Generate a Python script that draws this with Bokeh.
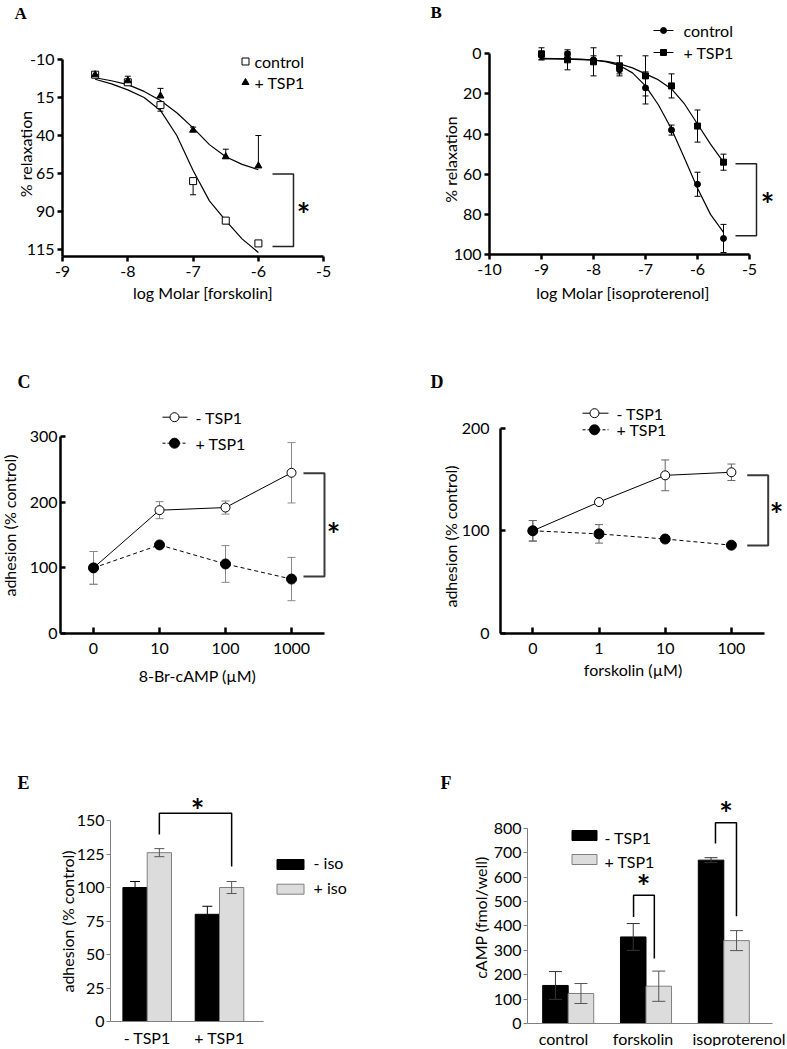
import math
from bokeh.plotting import figure
from bokeh.layouts import column, row
from bokeh.models import Range1d, FixedTicker, Label, Whisker, TeeHead, ColumnDataSource
from bokeh.embed import file_html
from bokeh.resources import INLINE

FONT = "Lato"
SERIF = "Liberation Serif"

# ---------------- data ----------------
# A: forskolin relaxation
a_logx = [-8.5, -8.0, -7.5, -7.0, -6.5, -6.0]
a_control = [0, 5, 20, 70, 96, 111]
a_control_err = [1, 2, 4, 9, 2, 0]
a_tsp1 = [0, 4, 14, 36.5, 54, 60]
a_tsp1_err = [1, 3, 5, 2, 5, 20]
a_fit_x = [-8.5, -8.25, -8.0, -7.75, -7.5, -7.25, -7.0, -6.75, -6.5, -6.25, -6.0]
a_fit_control = [3, 6, 10, 15, 23.5, 40, 63, 83, 96, 108, 117]
a_fit_tsp1 = [2, 4, 6.5, 11, 17, 25, 35, 46, 54, 59, 62.5]
a_yticks = [-10, 15, 40, 65, 90, 115]
a_xticks = [-9, -8, -7, -6, -5]

# B: isoproterenol relaxation
b_logx = [-9, -8.5, -8, -7.5, -7, -6.5, -6, -5.5]
b_control = [1, 0, 3, 8, 17, 38, 65, 92]
b_control_err = [2, 1, 2, 2, 8, 2.5, 6, 7]
b_tsp1 = [0, 3, 4, 6, 11, 16, 36, 54]
b_tsp1_err = [3, 5, 7, 5, 10, 6, 8, 4]
b_fit_x = [-9, -8.75, -8.5, -8.25, -8, -7.75, -7.5, -7.25, -7, -6.75, -6.5, -6.25, -6, -5.75, -5.5]
b_fit_control = [2.3, 2.4, 2.5, 2.7, 3.1, 4.0, 5.8, 9.5, 16, 25.5, 37.5, 52, 67, 80, 89]
b_fit_tsp1 = [2.5, 2.6, 2.7, 2.9, 3.2, 3.8, 5.0, 7.0, 10, 13, 17.5, 25, 35, 45, 54]
b_yticks = [0, 20, 40, 60, 80, 100]
b_xticks = [-10, -9, -8, -7, -6, -5]

# C: 8-Br-cAMP adhesion
c_conc = ["0", "10", "100", "1000"]
c_minus = [100, 188, 192, 245]
c_minus_err = [25, 13, 10, 46]
c_plus = [100, 135, 106, 83]
c_plus_err = [25, 3, 28, 33]
c_yticks = [0, 100, 200, 300]

# D: forskolin adhesion
d_conc = ["0", "1", "10", "100"]
d_minus = [100, 128, 154, 157]
d_minus_err = [10, 2, 15, 8]
d_plus = [100, 97, 92, 86]
d_plus_err = [10, 9, 2, 2]
d_yticks = [0, 100, 200]

# E: adhesion +/- iso
e_groups = ["- TSP1", "+ TSP1"]
e_minus_iso = [100, 80]
e_minus_iso_err = [4.5, 6]
e_plus_iso = [126, 100]
e_plus_iso_err = [3, 4.5]
e_yticks = [0, 25, 50, 75, 100, 125, 150]

# F: cAMP
f_groups = ["control", "forskolin", "isoproterenol"]
f_minus = [156, 355, 670]
f_minus_err = [57, 55, 10]
f_plus = [123, 153, 340]
f_plus_err = [41, 62, 41]
f_yticks = [0, 100, 200, 300, 400, 500, 600, 700, 800]


# ---------------- helpers ----------------
class Panel:
    """Maps reference-pixel positions to data values; frame fills the figure."""

    def __init__(self, L, T, W, H, AX, AY, x0v, x0p, kx, y0v, y0p, ky):
        self.L, self.T, self.W, self.H = L, T, W, H
        self.AX, self.AY = AX, AY
        self.x0v, self.x0p, self.kx = x0v, x0p, kx
        self.y0v, self.y0p, self.ky = y0v, y0p, ky

    def dx(self, px):
        return self.x0v + (px - self.x0p) / self.kx

    def dy(self, py):
        return self.y0v + (self.y0p - py) / self.ky

    def make(self):
        p = figure(width=self.W, height=self.H,
                   x_range=Range1d(self.dx(self.L), self.dx(self.L + self.W)),
                   y_range=Range1d(self.dy(self.T + self.H), self.dy(self.T)),
                   min_border=0, min_border_left=0, min_border_right=0,
                   min_border_top=0, min_border_bottom=0,
                   output_backend="svg", toolbar_location=None)
        p.outline_line_color = None
        p.xgrid.visible = False
        p.ygrid.visible = False
        p.background_fill_color = "white"
        p.border_fill_color = "white"
        p.xaxis[0].fixed_location = self.dy(self.AY)
        p.yaxis[0].fixed_location = self.dx(self.AX)
        return p


def style_axis(ax, ticks, bounds, lw=2.5, color="black", tin=0, tout=5,
               standoff=4, fs=16, overrides=None):
    ax.ticker = FixedTicker(ticks=ticks)
    ax.bounds = bounds
    ax.axis_line_width = lw
    ax.axis_line_color = color
    ax.major_tick_line_width = lw
    ax.major_tick_line_color = color
    ax.major_tick_in = tin
    ax.major_tick_out = tout
    ax.minor_tick_line_color = None
    ax.major_label_standoff = standoff
    ax.major_label_text_font = FONT
    ax.major_label_text_font_size = f"{fs}px"
    ax.major_label_text_color = "black"
    if overrides is None:
        overrides = {t: str(t) for t in ticks}
    ax.major_label_overrides = overrides


def label(p, x, y, text, size=15, bold=False, font=FONT, align="left",
          baseline="middle", angle=0.0, color="black"):
    p.add_layout(Label(x=x, y=y, text=text, text_font=font,
                       text_font_size=f"{size}px",
                       text_font_style="bold" if bold else "normal",
                       text_align=align, text_baseline=baseline,
                       angle=angle, text_color=color))


def whisker(p, xs, lows, ups, color="black", head=6, lw=1.0, low_head=True,
            up_head=True, level="underlay"):
    src = ColumnDataSource(dict(x=list(xs), lower=list(lows), upper=list(ups)))
    p.add_layout(Whisker(source=src, base="x", lower="lower", upper="upper",
                         line_color=color, line_width=lw, level=level,
                         lower_head=TeeHead(size=head, line_color=color, line_width=lw) if low_head else None,
                         upper_head=TeeHead(size=head, line_color=color, line_width=lw) if up_head else None))


def asterisk(p, x, y):
    label(p, x, y, "*", size=32, bold=True, align="center", baseline="middle")


# ---------------- Panel A ----------------
PA = Panel(L=0, T=0, W=395, H=303, AX=62, AY=256, x0v=-9, x0p=62, kx=65.3,
           y0v=-10, y0p=59, ky=-1.52)
pa = PA.make()
style_axis(pa.xaxis[0], a_xticks, (-9, -5), tout=5, standoff=4)
style_axis(pa.yaxis[0], a_yticks, (-10, PA.dy(PA.AY)), tout=5, standoff=3)
pa.line(a_fit_x, a_fit_control, line_color="black", line_width=1.2)
pa.line(a_fit_x, a_fit_tsp1, line_color="black", line_width=1.2)
whisker(pa, a_logx, a_control, [v + e for v, e in zip(a_control, a_control_err)],
        low_head=False)
whisker(pa, a_logx, [v - e for v, e in zip(a_tsp1, a_tsp1_err)], a_tsp1,
        up_head=False)
pa.scatter(a_logx, a_control, marker="square", size=7, fill_color="white",
           line_color="black", line_width=1)
pa.scatter(a_logx, a_tsp1, marker="triangle", size=7, fill_color="black",
           line_color="black")
pa.scatter([PA.dx(245)], [PA.dy(61)], marker="square", size=7, fill_color="white",
           line_color="black")
pa.scatter([PA.dx(245)], [PA.dy(82)], marker="triangle", size=7, fill_color="black",
           line_color="black")
label(pa, PA.dx(254), PA.dy(61), "control", size=16)
label(pa, PA.dx(254), PA.dy(82), "+ TSP1", size=16)
pa.line([PA.dx(272), PA.dx(293), PA.dx(293), PA.dx(272)],
        [PA.dy(173.5), PA.dy(173.5), PA.dy(246), PA.dy(246)],
        line_color="#222222", line_width=1.5)
asterisk(pa, PA.dx(303), PA.dy(214))
label(pa, PA.dx(14), PA.dy(3), "A", size=17, bold=True, font=SERIF, baseline="top")
label(pa, PA.dx(25), PA.dy(153.5), "% relaxation", size=16, align="center",
      angle=math.pi / 2)
label(pa, PA.dx(202.5), PA.dy(292), "log Molar [forskolin]", size=16, align="center")

# ---------------- Panel B ----------------
PB = Panel(L=395, T=0, W=390, H=303, AX=489, AY=254, x0v=-10, x0p=489, kx=52,
           y0v=0, y0p=53.3, ky=-2.007)
pb = PB.make()
style_axis(pb.xaxis[0], b_xticks, (-10, -5), tout=5, standoff=4)
style_axis(pb.yaxis[0], b_yticks, (0, PB.dy(PB.AY)), tout=5, standoff=3)
pb.line(b_fit_x, b_fit_control, line_color="black", line_width=1.2)
pb.line(b_fit_x, b_fit_tsp1, line_color="black", line_width=1.2)
whisker(pb, b_logx, [v - e for v, e in zip(b_control, b_control_err)],
        [v + e for v, e in zip(b_control, b_control_err)])
whisker(pb, b_logx, [v - e for v, e in zip(b_tsp1, b_tsp1_err)],
        [v + e for v, e in zip(b_tsp1, b_tsp1_err)])
pb.scatter(b_logx, b_control, marker="circle", size=6, fill_color="black",
           line_color="black")
pb.scatter(b_logx, b_tsp1, marker="square", size=6, fill_color="black",
           line_color="black")
for py, mk, txt in [(30, "circle", "control"), (52, "square", "+ TSP1")]:
    pb.line([PB.dx(653), PB.dx(673)], [PB.dy(py), PB.dy(py)], line_color="black",
            line_width=1.2)
    pb.scatter([PB.dx(663)], [PB.dy(py)], marker=mk, size=6, fill_color="black",
               line_color="black")
    label(pb, PB.dx(683), PB.dy(py), txt, size=16)
pb.line([PB.dx(735), PB.dx(756), PB.dx(756), PB.dx(735)],
        [PB.dy(163.3), PB.dy(163.3), PB.dy(235.3), PB.dy(235.3)],
        line_color="#222222", line_width=1.5)
asterisk(pb, PB.dx(767), PB.dy(204))
label(pb, PB.dx(430), PB.dy(2), "B", size=17, bold=True, font=SERIF, baseline="top")
label(pb, PB.dx(450), PB.dy(159), "% relaxation", size=16, align="center",
      angle=math.pi / 2)
label(pb, PB.dx(622.5), PB.dy(292), "log Molar [isoproterenol]", size=16, align="center")

# ---------------- Panel C ----------------
PC = Panel(L=0, T=303, W=395, H=437, AX=60, AY=633, x0v=0, x0p=93, kx=66,
           y0v=0, y0p=633, ky=0.656)
pc = PC.make()
c_x = list(range(len(c_conc)))
style_axis(pc.xaxis[0], c_x, (-0.5, 3.5), tin=6, tout=0, standoff=9,
           overrides={i: s for i, s in enumerate(c_conc)})
style_axis(pc.yaxis[0], c_yticks, (0, 300), tin=5, tout=0, standoff=3)
pc.line(c_x, c_minus, line_color="black", line_width=1)
pc.line(c_x, c_plus, line_color="black", line_width=1, line_dash="4 3")
whisker(pc, c_x, [v - e for v, e in zip(c_minus, c_minus_err)],
        [v + e for v, e in zip(c_minus, c_minus_err)], color="#888888", head=8)
whisker(pc, c_x, [v - e for v, e in zip(c_plus, c_plus_err)],
        [v + e for v, e in zip(c_plus, c_plus_err)], color="#888888", head=8)
pc.scatter(c_x, c_minus, marker="circle", size=9, fill_color="white",
           line_color="black", line_width=1)
pc.scatter(c_x, c_plus, marker="circle", size=10, fill_color="black",
           line_color="black")
pc.line([PC.dx(162), PC.dx(187)], [PC.dy(416.7)] * 2, line_color="black", line_width=1)
pc.scatter([PC.dx(174)], [PC.dy(416.7)], marker="circle", size=9, fill_color="white",
           line_color="black")
pc.line([PC.dx(162), PC.dx(187)], [PC.dy(442.7)] * 2, line_color="black", line_width=1,
        line_dash="3 2")
pc.scatter([PC.dx(174)], [PC.dy(442.7)], marker="circle", size=10, fill_color="black",
           line_color="black")
label(pc, PC.dx(195), PC.dy(416.7), "- TSP1", size=16)
label(pc, PC.dx(195), PC.dy(442.7), "+ TSP1", size=16)
pc.line([PC.dx(303), PC.dx(324), PC.dx(324), PC.dx(303)],
        [PC.dy(472.7), PC.dy(472.7), PC.dy(576), PC.dy(576)],
        line_color="#3a3a3a", line_width=2)
asterisk(pc, PC.dx(333), PC.dy(534))
label(pc, PC.dx(17), PC.dy(371), "C", size=18, bold=True, font=SERIF, baseline="top")
label(pc, PC.dx(9), PC.dy(525), "adhesion (% control)", size=16, align="center",
      angle=math.pi / 2)
label(pc, PC.dx(197), PC.dy(675), "8-Br-cAMP (µM)", size=16, align="center")

# ---------------- Panel D ----------------
PD = Panel(L=395, T=303, W=390, H=437, AX=500, AY=633, x0v=0, x0p=532.3, kx=66.2,
           y0v=0, y0p=633, ky=1.027)
pd_ = PD.make()
d_x = list(range(len(d_conc)))
style_axis(pd_.xaxis[0], d_x, (PD.dx(PD.AX), 3.5), tin=6, tout=0, standoff=9,
           overrides={i: s for i, s in enumerate(d_conc)})
style_axis(pd_.yaxis[0], d_yticks, (0, 200), tin=5, tout=0, standoff=11)
pd_.line(d_x, d_minus, line_color="black", line_width=1)
pd_.line(d_x, d_plus, line_color="black", line_width=1, line_dash="4 3")
whisker(pd_, d_x, [v - e for v, e in zip(d_minus, d_minus_err)],
        [v + e for v, e in zip(d_minus, d_minus_err)], color="#666666", head=8)
whisker(pd_, d_x, [v - e for v, e in zip(d_plus, d_plus_err)],
        [v + e for v, e in zip(d_plus, d_plus_err)], color="#666666", head=8)
pd_.scatter(d_x, d_minus, marker="circle", size=9, fill_color="white",
            line_color="black", line_width=1)
pd_.scatter(d_x, d_plus, marker="circle", size=10, fill_color="black",
            line_color="black")
pd_.line([PD.dx(582), PD.dx(608)], [PD.dy(412.7)] * 2, line_color="black", line_width=1)
pd_.scatter([PD.dx(594)], [PD.dy(412.7)], marker="circle", size=9, fill_color="white",
            line_color="black")
pd_.line([PD.dx(582), PD.dx(608)], [PD.dy(429.3)] * 2, line_color="black", line_width=1,
         line_dash="3 2")
pd_.scatter([PD.dx(594)], [PD.dy(429.3)], marker="circle", size=10, fill_color="black",
            line_color="black")
label(pd_, PD.dx(616), PD.dy(412.7), "- TSP1", size=16)
label(pd_, PD.dx(616), PD.dy(429.3), "+ TSP1", size=16)
pd_.line([PD.dx(746.7), PD.dx(767.7), PD.dx(767.7), PD.dx(746.7)],
         [PD.dy(474.7), PD.dy(474.7), PD.dy(545), PD.dy(545)],
         line_color="#3a3a3a", line_width=2)
asterisk(pd_, PD.dx(776), PD.dy(514))
label(pd_, PD.dx(430), PD.dy(371), "D", size=18, bold=True, font=SERIF, baseline="top")
label(pd_, PD.dx(450), PD.dy(536), "adhesion (% control)", size=16, align="center",
      angle=math.pi / 2)
label(pd_, PD.dx(632.5), PD.dy(669), "forskolin (µM)", size=16, align="center")

# ---------------- Panel E ----------------
PE = Panel(L=0, T=740, W=395, H=306, AX=110, AY=1021, x0v=0, x0p=146.7, kx=72.3,
           y0v=0, y0p=1021, ky=1.34)
pe = PE.make()
e_x = list(range(len(e_groups)))
e_bw = 0.336
e_xa = [i - e_bw / 2 for i in e_x]
e_xb = [i + e_bw / 2 for i in e_x]
style_axis(pe.xaxis[0], e_x, (PE.dx(PE.AX), PE.dx(263.3)), lw=1, color="#808080",
           tin=0, tout=0, standoff=6, fs=16,
           overrides={i: s for i, s in enumerate(e_groups)})
style_axis(pe.yaxis[0], e_yticks, (0, 150), lw=1, color="#808080", tin=0, tout=4,
           standoff=2, fs=16)
pe.vbar(x=e_xa, top=e_minus_iso, width=e_bw, fill_color="black", line_color="black")
pe.vbar(x=e_xb, top=e_plus_iso, width=e_bw, fill_color="#dcdcdc", line_color="#808080")
whisker(pe, e_xa, [v - e for v, e in zip(e_minus_iso, e_minus_iso_err)],
        [v + e for v, e in zip(e_minus_iso, e_minus_iso_err)], color="black", head=10,
        level="annotation")
whisker(pe, e_xb, [v - e for v, e in zip(e_plus_iso, e_plus_iso_err)],
        [v + e for v, e in zip(e_plus_iso, e_plus_iso_err)], color="#555555", head=10,
        level="annotation")
pe.rect([PE.dx(290)], [PE.dy(864)], width=27, height=10, width_units="screen",
        height_units="screen", fill_color="black", line_color="black")
pe.rect([PE.dx(290)], [PE.dy(888.7)], width=27, height=10, width_units="screen",
        height_units="screen", fill_color="#dcdcdc", line_color="#808080")
label(pe, PE.dx(313), PE.dy(862), "- iso", size=16)
label(pe, PE.dx(313), PE.dy(887), "+ iso", size=16)
pe.line([e_xb[0], e_xb[0], e_xb[1], e_xb[1]], [139.6, 155.5, 155.5, 115.7],
        line_color="black", line_width=1.5)
asterisk(pe, (e_xb[0] + e_xb[1]) / 2 + 0.03, 155.5 + 3 / PE.ky)
label(pe, PE.dx(17), PE.dy(772), "E", size=18, bold=True, font=SERIF, baseline="top")
label(pe, PE.dx(67), PE.dy(921), "adhesion (% control)", size=16, align="center",
      angle=math.pi / 2)

# ---------------- Panel F ----------------
PF = Panel(L=395, T=740, W=390, H=306, AX=527, AY=1023, x0v=0, x0p=567.7, kx=77.8,
           y0v=0, y0p=1023, ky=0.2438)
pf = PF.make()
f_x = list(range(len(f_groups)))
f_bw = 0.328
f_xa = [i - f_bw / 2 for i in f_x]
f_xb = [i + f_bw / 2 for i in f_x]
# category labels sit where the original placed them (label centres, not bar centres)
f_label_pos = [PF.dx(563), PF.dx(642.5), PF.dx(740)]
style_axis(pf.xaxis[0], f_label_pos, (PF.dx(PF.AX), PF.dx(771.7)), lw=1, color="#808080",
           tin=0, tout=0, standoff=5, fs=16,
           overrides={pos: s for pos, s in zip(f_label_pos, f_groups)})
style_axis(pf.yaxis[0], f_yticks, (0, 800), lw=1, color="#808080", tin=0, tout=4,
           standoff=2, fs=16)
pf.vbar(x=f_xa, top=f_minus, width=f_bw, fill_color="black", line_color="black")
pf.vbar(x=f_xb, top=f_plus, width=f_bw, fill_color="#dcdcdc", line_color="#808080")
whisker(pf, f_xa, [v - e for v, e in zip(f_minus, f_minus_err)],
        [v + e for v, e in zip(f_minus, f_minus_err)], color="#333333", head=13,
        level="annotation")
whisker(pf, f_xb, [v - e for v, e in zip(f_plus, f_plus_err)],
        [v + e for v, e in zip(f_plus, f_plus_err)], color="#555555", head=13,
        level="annotation")
pf.rect([PF.dx(584)], [PF.dy(835)], width=25, height=10, width_units="screen",
        height_units="screen", fill_color="black", line_color="black")
pf.rect([PF.dx(584)], [PF.dy(859)], width=25, height=10, width_units="screen",
        height_units="screen", fill_color="#dcdcdc", line_color="#808080")
label(pf, PF.dx(604), PF.dy(837), "- TSP1", size=16)
label(pf, PF.dx(604), PF.dy(861), "+ TSP1", size=16)
pf.line([0.84, 0.84, 1.107, 1.107], [437, 526, 526, 267], line_color="black",
        line_width=1.5)
pf.line([1.893, 1.893, 2.163, 2.163], [738, 823, 823, 440], line_color="black",
        line_width=1.5)
asterisk(pf, 0.97, 526 + 9 / PF.ky)
asterisk(pf, 2.03, 823 + 9 / PF.ky)
label(pf, PF.dx(440), PF.dy(772), "F", size=18, bold=True, font=SERIF, baseline="top")
label(pf, PF.dx(480), PF.dy(917), "cAMP (fmol/well)", size=16, align="center",
      angle=math.pi / 2)

layout = column(row(pa, pb), row(pc, pd_), row(pe, pf))
open("out.html", "w").write(file_html(layout, INLINE))
